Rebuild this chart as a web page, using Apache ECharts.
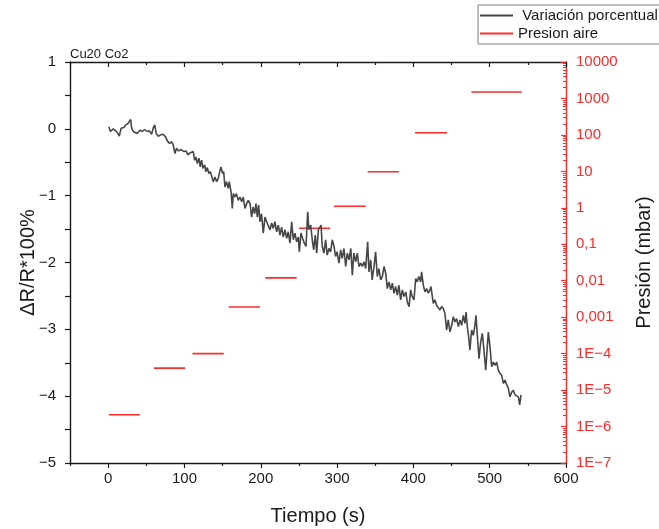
<!DOCTYPE html>
<html>
<head>
<meta charset="utf-8">
<script src="https://cdn.jsdelivr.net/npm/echarts@6/dist/echarts.min.js"></script>
<style>
  html, body { margin: 0; padding: 0; background: #fff; }
  #chart { width: 659px; height: 529px; }
</style>
</head>
<body>
<div id="chart"></div>
<script>
// Resistance change (%) over time, sample Cu20 Co2
const timeS = [
  1, 3, 6.7, 9.8, 12.8, 14.6, 17, 20.7, 23, 26, 27.7, 29.5, 30.8, 33, 35.6, 38, 41.7, 44.7, 47.8, 51,
  54, 57, 59, 61, 63, 65.7, 68.8, 72, 75.3, 77.5, 80.6, 83, 85.3, 87.5, 89.7, 92.4, 95.7, 99.3, 102, 104.6,
  107, 109.5, 111.5, 113.4, 115, 116.8, 119, 120.7, 122.5, 124.2, 126.5, 128, 130, 132, 134, 136.4, 137.8,
  140, 142.2, 144.4, 145.6, 147.8, 150, 151.4, 153, 155, 157.4, 158.7, 161, 162.7, 164, 166, 168, 170.5,
  172.7, 175, 177, 179.3, 181.5, 183.6, 186, 188, 190, 192, 193.7, 195.5, 197.2, 199, 201, 203.3, 205.5,
  207.7, 210, 212, 214.3, 216.4, 218.6, 220.8, 223, 225.2, 227.3, 229.5, 231.7, 234, 236, 238.3, 240.5,
  242.6, 244.8, 247, 249.2, 250.5, 252.7, 254.9, 257, 259.3, 261.5, 263, 265.4, 267.5, 269.3, 271.5,
  273.3, 275.5,
  277.6, 279, 280.6, 282.8, 285, 287, 289.4, 291.5, 293.7, 296, 298, 300, 302.5, 304.7, 306.8, 309,
  311.3, 313.4, 315.6, 318, 320, 322, 324.4, 326.5, 328.7, 331, 333, 335.3, 337.5, 340.1, 341.8, 344,
  346, 348.4, 350.5, 352.7, 354.9, 357.1, 359.3, 361.5, 363.7, 365.8, 368, 370.3, 372.4, 374.6, 376.8,
  379, 381, 383.3, 385.5, 387.7, 390, 392, 394.3, 396.4, 398.5, 400.8, 403, 405, 407.2, 409.5,
  410.8, 413, 415.2, 417.4, 419.6, 421.7, 423, 424.8, 426.1, 428.3, 430.4, 432.6, 434.8, 437, 439.2,
  441.3, 443.5, 445.7, 447.9, 450.2, 452.3, 454.5, 456.7, 458.9, 461, 463.3, 465.4, 467.6, 469, 470.7,
  472.4, 474.1, 476.3, 478.5, 480.7, 482, 483.8, 486, 488.2, 490.3, 492.5, 494.8, 496, 498.2, 500.4,
  502.6, 504.8, 507, 509.2, 511.3, 513.5, 515.7, 518, 520, 522.3, 524.4, 526.6, 528.8, 531, 533.1,
  535.3, 537.5, 539.3, 541
];
const deltaR = [
  0.03, -0.04, 0, -0.03, -0.07, -0.11, 0.01, 0.02, 0.06, 0.08, 0.11, 0.14, 0.01, -0.04, -0.03, -0.07, -0.02, -0.04, -0.01, -0.04,
  -0.03, -0.08, 0.01, 0.06, -0.07, -0.11, -0.09, -0.08, -0.12, -0.18, -0.22, -0.19, -0.24, -0.37, -0.29, -0.33, -0.31, -0.34, -0.33, -0.39,
  -0.36, -0.38, -0.34, -0.47, -0.42, -0.52, -0.44, -0.57, -0.47, -0.59, -0.54, -0.64, -0.58, -0.67, -0.64, -0.74, -0.79,
  -0.72, -0.79, -0.74, -0.67, -0.57, -0.67, -0.64, -0.87, -0.79, -0.89, -0.79, -0.94, -1.19, -0.97, -1.02, -0.97, -1.07,
  -1.02, -1.09, -1.02, -1.19, -1.12, -1.07, -1.12, -1.32, -1.17, -1.27, -1.12, -1.32, -1.14, -1.39, -1.27, -1.56, -1.32,
  -1.39, -1.37, -1.51, -1.41, -1.49, -1.39, -1.54, -1.44, -1.59, -1.47, -1.62, -1.51, -1.64, -1.54, -1.71, -1.39,
  -1.66, -1.56, -1.69, -1.62, -1.84, -1.56, -1.64, -1.71, -1.76, -1.24, -1.51, -1.44, -1.66, -1.81, -1.59,
  -1.86, -1.51,
  -1.47, -1.44, -1.76, -1.86, -1.66, -1.89, -1.79, -1.84, -1.66, -1.76, -1.91, -1.84, -2.01, -1.81, -1.94, -1.79,
  -2.06, -1.86, -1.96, -1.79, -2.19, -1.86, -1.99, -1.86, -2.06, -2.01, -2.06, -1.99, -2.09, -1.69, -2.14, -1.96,
  -2.26, -2.06, -1.84, -2.21, -2.09, -2.26, -2.21, -2.06, -2.16, -2.39, -2.29, -2.41, -2.31, -2.46, -2.36,
  -2.49, -2.34, -2.56, -2.41, -2.51, -2.44, -2.59, -2.66, -2.41, -2.51, -2.56, -2.24, -2.29, -2.21, -2.29,
  -2.14, -2.34, -2.44, -2.39, -2.46, -2.41, -2.36, -2.34, -2.61, -2.56, -2.64, -2.66, -2.71, -2.66, -2.69,
  -2.76, -3.01, -2.86, -3.04, -2.94, -2.81, -2.89, -2.84, -2.96, -2.86, -2.94, -2.79, -2.91, -2.74, -2.96,
  -3.11, -3.31, -3.01, -3.09, -2.94, -2.79, -3.09, -3.44, -3.19, -3.06, -3.31, -3.61, -3.41, -3.04, -3.26,
  -3.56, -3.49, -3.54, -3.49, -3.61, -3.66, -3.69, -3.81, -3.76, -3.83, -3.88, -4.01, -3.94, -3.91, -3.98,
  -3.96, -4.01, -4.13, -3.98
];

// Air pressure steps (mbar): start / end time of each step
const stepStart = [1, 60, 110.5, 158, 206, 250, 296, 340, 402, 476];
const stepEnd = [41.5, 101, 151.4, 199, 247, 291, 337.5, 381, 444, 542];
const stepPressure = [2.1e-6, 4e-5, 1e-4, 1.9e-3, 0.012, 0.275, 1.1, 9.8, 115, 1500];

// Axis ticks
const timeTicks = [0, 100, 200, 300, 400, 500, 600];
const timeMinorTicks = [-50, 50, 150, 250, 350, 450, 550];
const pressureTicks = [1e-7, 1e-6, 1e-5, 1e-4, 1e-3, 1e-2, 1e-1, 1, 10, 100, 1000, 10000];
const pressureTickLabels = ['1E\u22127', '1E\u22126', '1E\u22125', '1E\u22124', '0,001', '0,01', '0,1', '1', '10', '100', '1000', '10000'];

const FONT = '"Liberation Sans", Arial, sans-serif';
const RED = '#ff2a2a';
const INK = '#1a1a1a';

// log-spaced minor ticks (2..9 of each decade)
const pressureMinorTicks = [];
for (let e = -7; e < 4; e++) {
  for (let m = 2; m <= 9; m++) pressureMinorTicks.push(m * Math.pow(10, e));
}

const seriesGray = {
  name: 'Variación porcentual',
  type: 'line',
  xAxisIndex: 0,
  yAxisIndex: 0,
  showSymbol: false,
  color: '#474747',
  lineStyle: { width: 1.6, color: '#474747' },
  data: timeS.map((t, i) => [t, deltaR[i]]),
  z: 3
};

const stepSeries = stepStart.map((s, i) => ({
  name: 'Presion aire',
  type: 'line',
  xAxisIndex: 0,
  yAxisIndex: 1,
  showSymbol: false,
  color: RED,
  lineStyle: { width: 1.6, color: RED },
  data: [[s, stepPressure[i]], [stepEnd[i], stepPressure[i]]],
  z: 2
}));

function xAxisDef(position, ticks, len, withLine, withLabels) {
  return {
    type: 'value', min: -50, max: 600, position: position,
    splitLine: { show: false },
    axisLine: { show: withLine, onZero: false, lineStyle: { color: INK, width: 1.4 } },
    axisTick: { show: true, inside: position === 'top', customValues: ticks, length: len, lineStyle: { color: INK, width: 1.2 } },
    axisLabel: withLabels
      ? { customValues: ticks, fontSize: 15, color: INK, margin: 8, fontFamily: FONT }
      : { show: false }
  };
}

const xMain = xAxisDef('bottom', timeTicks, 5, true, true);
xMain.name = 'Tiempo (s)';
xMain.nameLocation = 'middle';
xMain.nameGap = 43;
xMain.nameTextStyle = { fontSize: 20, color: INK, fontFamily: FONT };

const option = {
  animation: false,
  backgroundColor: '#fff',
  textStyle: { fontFamily: FONT },
  title: {
    text: 'Cu20 Co2', left: 65, top: 43,
    textStyle: { fontSize: 13, fontWeight: 'normal', color: INK, fontFamily: FONT }
  },
  legend: {
    data: ['Variación porcentual', 'Presion aire'],
    orient: 'vertical',
    left: 478, top: 5,
    icon: 'rect',
    itemWidth: 33, itemHeight: 2,
    itemGap: 3,
    padding: [3, 60, 3, 2],
    borderColor: '#808080', borderWidth: 1,
    backgroundColor: '#fff',
    formatter: n => n === 'Variación porcentual' ? ' ' + n : n,
    textStyle: { fontSize: 15, color: INK, fontFamily: FONT }
  },
  grid: { left: 70, right: 93, top: 62, bottom: 66, containLabel: false, outerBoundsMode: 'none' },
  xAxis: [
    xMain,
    xAxisDef('bottom', timeMinorTicks, 3, false, false),
    xAxisDef('top', timeTicks, 5, true, false),
    xAxisDef('top', timeMinorTicks, 3, false, false)
  ],
  yAxis: [
    {
      type: 'value', position: 'left', min: -5, max: 1, interval: 1,
      splitLine: { show: false },
      axisLine: { show: true, onZero: false, lineStyle: { color: INK, width: 1.4 } },
      axisTick: { show: true, length: 5, lineStyle: { color: INK, width: 1.2 } },
      minorTick: { show: true, splitNumber: 2, length: 5, lineStyle: { color: INK, width: 1.2 } },
      axisLabel: {
        fontSize: 15, color: INK, margin: 14, fontFamily: FONT,
        formatter: v => String(v).replace('-', '\u2212')
      },
      name: '\u0394R/R*100%', nameLocation: 'middle', nameGap: 32, nameRotate: 90,
      nameMoveOverlap: false,
      nameTextStyle: { fontSize: 20, color: INK, fontFamily: FONT }
    },
    {
      type: 'log', logBase: 10, position: 'right', min: 1e-7, max: 1e4, offset: 0,
      splitLine: { show: false },
      axisLine: { show: true, onZero: false, lineStyle: { color: RED, width: 1.4 } },
      axisTick: { show: true, inside: true, customValues: pressureTicks, length: 5, lineStyle: { color: RED, width: 1.2 } },
      axisLabel: {
        customValues: pressureTicks, fontSize: 15, color: RED, margin: 10, fontFamily: FONT,
        formatter: v => pressureTickLabels[Math.round(Math.log10(v)) + 7]
      },
      name: 'Presión (mbar)', nameLocation: 'middle', nameGap: 68, nameRotate: 90,
      nameTextStyle: { fontSize: 20, color: INK, fontFamily: FONT }
    },
    {
      type: 'log', logBase: 10, position: 'right', min: 1e-7, max: 1e4, offset: 0,
      splitLine: { show: false },
      axisLine: { show: false, onZero: false },
      axisTick: { show: true, inside: true, customValues: pressureMinorTicks, length: 3, lineStyle: { color: RED, width: 1 } },
      axisLabel: { show: false }
    }
  ],
  series: [seriesGray].concat(stepSeries)
};

const chart = echarts.init(document.getElementById('chart'), null, { renderer: 'canvas' });
chart.setOption(option);
</script>
</body>
</html>
